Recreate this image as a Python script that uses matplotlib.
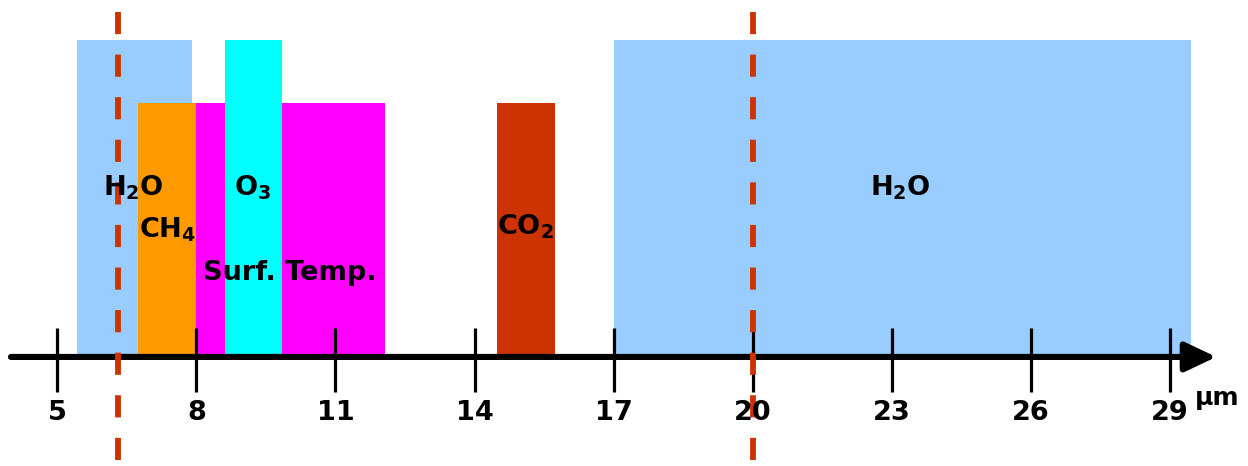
import matplotlib
matplotlib.use("Agg")
import matplotlib.pyplot as plt

plt.rcParams['font.family'] = ['DejaVu Sans']
plt.rcParams['mathtext.fontset'] = 'custom'
plt.rcParams['mathtext.rm'] = 'DejaVu Sans:bold'
plt.rcParams['mathtext.it'] = 'DejaVu Sans:bold'
plt.rcParams['mathtext.bf'] = 'DejaVu Sans:bold'

# ---- data ----
band_names = ["H$_2$O", "CH$_4$", "Surf. Temp.", "O$_3$", "CO$_2$", "H$_2$O"]
band_start = [5.43, 6.73, 8.00, 8.62, 14.49, 17.00]
band_end = [7.90, 8.00, 12.07, 9.85, 15.73, 29.45]
band_height = [1.0, 0.8, 0.8, 1.0, 0.8, 1.0]
band_colors = ["#99CCFF", "#FF9900", "#FF00FF", "#00FFFF", "#CC3300", "#99CCFF"]
label_x = [6.63, 7.39, 10.02, 9.22, 15.09, 23.18]
label_y = [0.533, 0.40, 0.265, 0.533, 0.41, 0.533]

tick_values = [5, 8, 11, 14, 17, 20, 23, 26, 29]
tick_labels = ["5", "8", "11", "14", "17", "20", "23", "26", "29"]
dashed_x = [6.30, 20.0]
unit_label = "µm"

# ---- figure ----
fig = plt.figure(figsize=(12.48, 4.66), dpi=100)
ax = fig.add_axes([0, 0, 1, 1])
ax.set_xlim(3.764, 30.684)
ax.set_ylim(-0.344, 1.126)
ax.axis('off')

widths = [e - s for s, e in zip(band_start, band_end)]
ax.bar(band_start, band_height, width=widths, align='edge',
       color=band_colors, edgecolor='none', zorder=1)

for name, x, y in zip(band_names, label_x, label_y):
    ax.text(x, y, name, ha='center', va='center', fontsize=19.5,
            fontweight='bold', color='black', zorder=5)

# axis arrow
ax.annotate('', xy=(30.0, 0), xytext=(4.0, 0),
            arrowprops=dict(arrowstyle='-|>,head_length=0.95,head_width=0.45',
                            lw=4.4, color='black', mutation_scale=20,
                            shrinkA=0, shrinkB=0), zorder=3)

# ticks
ax.vlines(tick_values, -0.11, 0.092, color='black', lw=2.3, zorder=3)
for v, lab in zip(tick_values, tick_labels):
    ax.text(v, -0.177, lab, ha='center', va='center', fontsize=19.5,
            fontweight='bold', color='black', zorder=5)
ax.text(30.02, -0.129, unit_label, ha='center', va='center', fontsize=18,
        fontweight='bold', color='black', zorder=5)

# dashed reference lines
for dx in dashed_x:
    ax.plot([dx, dx], [1.088, -0.344], color='#CC3300', lw=4.2,
            linestyle=(0, (3.8, 3.5)), solid_capstyle='butt',
            dash_capstyle='butt', zorder=4)

fig.savefig("out.png", dpi=100)
